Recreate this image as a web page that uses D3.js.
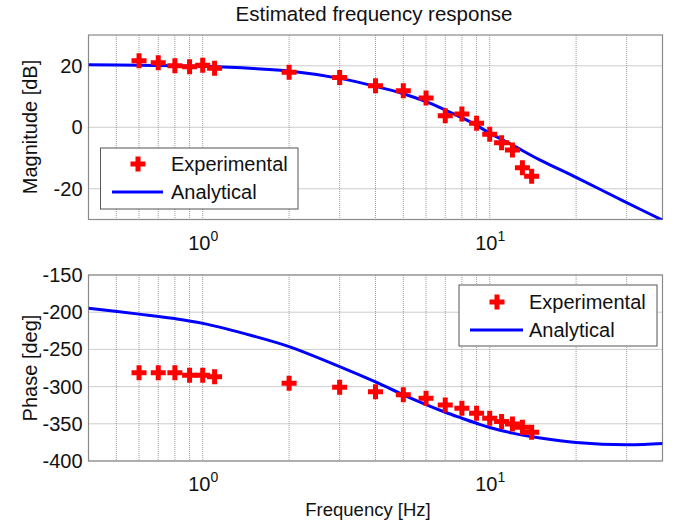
<!DOCTYPE html>
<html>
<head>
<meta charset="utf-8">
<script src="https://cdn.jsdelivr.net/npm/d3@7"></script>
<style>
  html, body { margin: 0; padding: 0; background: #fff; }
  svg { display: block; font-family: "Liberation Sans", Arial, Helvetica, sans-serif; }
</style>
</head>
<body>
<svg id="chart" width="679" height="523"></svg>
<script>
// ---------- data ----------
const freqExp = [0.6, 0.7, 0.8, 0.9, 1.0, 1.1, 2, 3, 4, 5, 6, 7, 8, 9, 10, 11, 12, 13, 14];
const magExp  = [21.6, 21.0, 20.0, 19.7, 20.2, 19.2, 17.9, 16.2, 13.5, 11.9, 9.5, 3.7, 4.3, 1.3, -2.3, -5.0, -7.4, -13.2, -15.9];
const phaseExp = [-281.3, -281.3, -281.3, -284.8, -284.8, -286.6, -295.6, -301, -306.8, -311, -315.8, -324.7, -329.2, -335.9, -342.6, -347, -350.3, -354.8, -361.4];

const freqAna  = [0.4, 0.6, 0.8, 1, 1.5, 2, 3, 4, 5, 6, 7, 8, 9, 10, 12, 15, 20, 30, 40];
const magAna   = [20.3, 20.2, 20.0, 19.8, 19.1, 18.3, 15.9, 13.3, 10.9, 8.3, 5.6, 3.1, 0.6, -1.9, -5.8, -10.7, -16.3, -24.5, -30.2];
const phaseAna = [-194.8, -202.6, -208.6, -215.0, -232, -246.3, -273.2, -293.8, -311.0, -324.2, -334.5, -342.5, -349.3, -355.0, -362.5, -369.0, -375.0, -378.2, -376.5];

const magTicks = [-20, 0, 20];
const phaseTicks = [-400, -350, -300, -250, -200, -150];
const freqLabelTicks = [1, 10];
const freqGridTicks = [0.5, 0.6, 0.7, 0.8, 0.9, 1, 2, 3, 4, 5, 6, 7, 8, 9, 10, 20, 30];

const titleText = "Estimated frequency response";
const magLabel = "Magnitude [dB]";
const phaseLabel = "Phase [deg]";
const freqLabel = "Frequency [Hz]";
const legendNames = ["Experimental", "Analytical"];

// ---------- layout ----------
const svg = d3.select("#chart");
const X0 = 88.5, X1 = 662.5;
const top1 = 35, bot1 = 219.5;
const top2 = 275, bot2 = 461;
const red = "#ff0000", blue = "#0000ff";
const gridColor = "#9a9a9a", boxColor = "#8a8a8a";
const FONT = "Liberation Sans, Arial, sans-serif";

const x = d3.scaleLog().domain([0.4, 40]).range([X0, X1]);
const yMag = d3.scaleLinear().domain([-30, 30]).range([bot1, top1]);
const yPh = d3.scaleLinear().domain([-400, -150]).range([bot2, top2]);

const defs = svg.append("defs");

function panel(id, y, yTicks, yTop, yBot, freqs, vals, anaVals, labelText, labelY) {
  const g = svg.append("g");
  defs.append("clipPath").attr("id", id)
    .append("rect").attr("x", X0).attr("y", yTop).attr("width", X1 - X0).attr("height", yBot - yTop);

  // grid
  g.append("g").selectAll("line").data(freqGridTicks).join("line")
    .attr("x1", d => x(d)).attr("x2", d => x(d)).attr("y1", yTop).attr("y2", yBot)
    .attr("stroke", gridColor).attr("stroke-width", 1).attr("stroke-dasharray", "1,1");
  g.append("g").selectAll("line").data(yTicks).join("line")
    .attr("x1", X0).attr("x2", X1).attr("y1", d => y(d)).attr("y2", d => y(d))
    .attr("stroke", gridColor).attr("stroke-width", 1).attr("stroke-dasharray", "1,1");

  // y axis
  const ya = g.append("g").attr("transform", `translate(${X0},0)`)
    .call(d3.axisLeft(y).tickValues(yTicks).tickSize(0).tickPadding(6).tickFormat(d => String(d)));
  ya.select(".domain").remove();
  ya.selectAll("text").attr("font-size", 20).attr("fill", "#111").attr("font-family", FONT);

  // x axis (labels 10^n)
  const xa = g.append("g").attr("transform", `translate(0,${yBot})`)
    .call(d3.axisBottom(x).tickValues(freqLabelTicks).tickSize(0).tickPadding(0).tickFormat(() => ""));
  xa.select(".domain").remove();
  xa.selectAll(".tick text").each(function(d) {
    const t = d3.select(this).attr("y", 30).attr("dy", 0).attr("font-size", 20).attr("fill", "#111")
      .attr("font-family", FONT);
    t.append("tspan").text("10");
    t.append("tspan").attr("font-size", 14).attr("dy", -9).text(String(Math.round(Math.log10(d))));
  });

  // box
  g.append("rect").attr("x", X0).attr("y", yTop).attr("width", X1 - X0).attr("height", yBot - yTop)
    .attr("fill", "none").attr("stroke", boxColor).attr("stroke-width", 1.2);

  // analytical line
  const line = d3.line().x((d, i) => x(freqAna[i])).y(d => y(d)).curve(d3.curveCatmullRom.alpha(0.5));
  g.append("path").datum(anaVals).attr("d", line).attr("fill", "none")
    .attr("stroke", blue).attr("stroke-width", 3).attr("clip-path", `url(#${id})`);

  // experimental markers
  const cross = d3.symbol().type(d3.symbolCross).size(125);
  g.append("g").selectAll("path").data(vals).join("path")
    .attr("d", cross)
    .attr("transform", (d, i) => `translate(${x(freqs[i])},${y(d)})`)
    .attr("fill", red);

  // y label
  svg.append("text").attr("transform", `translate(37,${labelY}) rotate(-90)`)
    .attr("text-anchor", "middle").attr("font-size", 20).attr("fill", "#111").text(labelText);
}

panel("clip1", yMag, magTicks, top1, bot1, freqExp, magExp, magAna, magLabel, 127);
panel("clip2", yPh, phaseTicks, top2, bot2, freqExp, phaseExp, phaseAna, phaseLabel, 368);

// title and x label
svg.append("text").attr("x", 374).attr("y", 21).attr("text-anchor", "middle")
  .attr("font-size", 20.5).attr("fill", "#111").text(titleText);
svg.append("text").attr("x", 368).attr("y", 516).attr("text-anchor", "middle")
  .attr("font-size", 18.5).attr("fill", "#111").text(freqLabel);

// legends
function legend(bx, by, bw, bh, markerX, markerY, lineX1, lineX2, lineY, textX) {
  const g = svg.append("g");
  g.append("rect").attr("x", bx).attr("y", by).attr("width", bw).attr("height", bh)
    .attr("fill", "#fff").attr("stroke", "#555").attr("stroke-width", 1);
  g.append("path").attr("d", d3.symbol().type(d3.symbolCross).size(125)())
    .attr("transform", `translate(${markerX},${markerY})`).attr("fill", red);
  g.append("line").attr("x1", lineX1).attr("x2", lineX2).attr("y1", lineY).attr("y2", lineY)
    .attr("stroke", blue).attr("stroke-width", 3);
  g.append("text").attr("x", textX).attr("y", markerY + 7).attr("font-size", 20).attr("fill", "#111").text(legendNames[0]);
  g.append("text").attr("x", textX).attr("y", lineY + 7).attr("font-size", 20).attr("fill", "#111").text(legendNames[1]);
}
legend(100.5, 148, 197.5, 61, 138, 164, 112, 163, 192, 171);
legend(459, 285, 198, 61, 497, 302, 470, 523, 330, 529);
</script>
</body>
</html>
